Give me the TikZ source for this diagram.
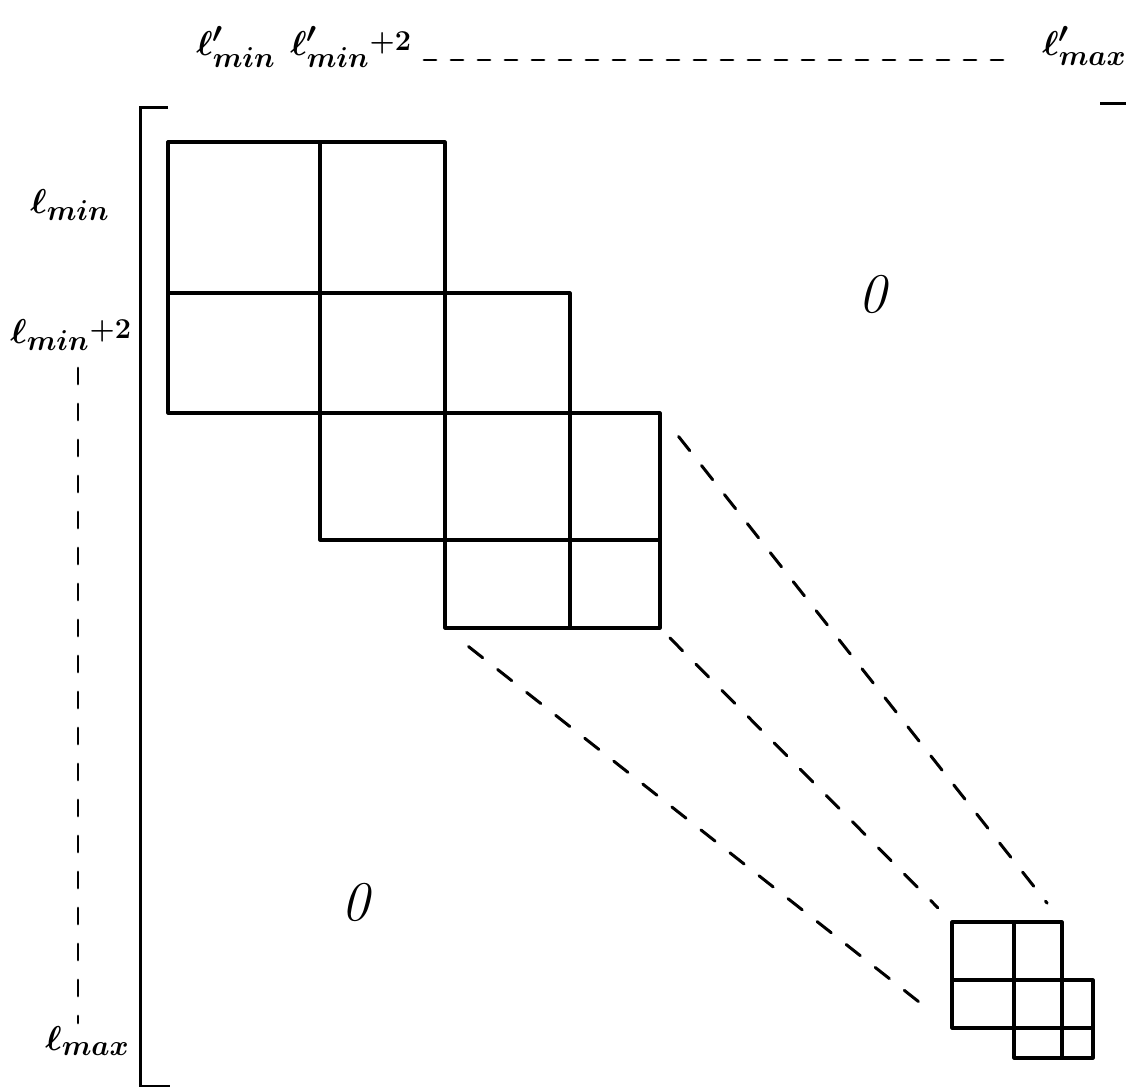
\documentclass[tikz,border=0pt]{standalone}
\usepackage{amsmath}
\usepackage{bm}
\usetikzlibrary{calc}
\begin{document}
\begin{tikzpicture}[x=0.5pt,y=-0.5pt,
  cellline/.style={line width=1.6pt, line cap=round, line join=round},
  bracketline/.style={line width=1.5pt},
  diagdash/.style={line width=1.5pt, line cap=round, dash pattern=on 9pt off 9.5pt},
  axisdash/.style={line width=1.4pt, line cap=round, dash pattern=on 6pt off 7.5pt},
  lab/.style={font=\fontsize{19}{22}\selectfont\boldmath, inner sep=0pt, anchor=base west},
  zero/.style={font=\fontsize{28}{30}\selectfont\itshape, inner sep=0pt}]
\useasboundingbox (0,0) rectangle (1126,1087);

% bracket
\draw[bracketline] (168,107) -- (140,107) -- (140,1086) -- (170,1086);
\draw[bracketline] (1100,103) -- (1126,103);

% big block cells
\foreach \xa/\xb/\ya/\yb in {168/320/142/293, 320/445/142/293,
   168/320/293/413, 320/445/293/413, 445/570/293/413,
   320/445/413/540, 445/570/413/540, 570/660/413/540,
   445/570/540/628, 570/660/540/628}
  \draw[cellline] (\xa,\ya) rectangle (\xb,\yb);

% small block cells
\foreach \xa/\xb/\ya/\yb in {952/1014/922/980, 1014/1062/922/980,
   952/1014/980/1028, 1014/1062/980/1028, 1062/1093/980/1028,
   1014/1062/1028/1058, 1062/1093/1028/1058}
  \draw[cellline] (\xa,\ya) rectangle (\xb,\yb);

% corners used by the connectors
\coordinate (bigTR) at (660,413);
\coordinate (bigBR) at (660,628);
\coordinate (bigBL) at (445,628);
\coordinate (smTR) at (1062,922);
\coordinate (smTL) at (952,922);
\coordinate (smBL) at (952,1028);

\draw[diagdash, shorten <=15pt, shorten >=12pt] (bigTR) -- (smTR);
\draw[diagdash, shorten <=7pt, shorten >=10pt] (bigBR) -- (smTL);
\draw[diagdash, shorten <=15pt, shorten >=12pt] (bigBL) -- (smBL);

% labels
\node[lab] (cmin) at (196,55) {$\ell'_{min}$};
\node[lab] (cmin2) at (290,55) {$\ell'_{min}\raisebox{2.5pt}{$\scriptstyle+2$}$};
\node[lab] (cmax) at (1042,55) {$\ell'_{max}$};
\node[lab] (rmin) at (30,213) {$\ell_{min}$};
\node[lab] (rmin2) at (10,343) {$\ell_{min}\raisebox{2.5pt}{$\scriptstyle+2$}$};
\node[lab] (rmax) at (45,1050) {$\ell_{max}$};

\coordinate (topA) at (424,60);
\coordinate (topB) at (1012,60);
\draw[axisdash] (topA) -- (topB);
\coordinate (leftA) at (78,368);
\coordinate (leftB) at (78,1023);
\draw[axisdash, dash pattern=on 8pt off 10pt] (leftA) -- (leftB);

\node[zero] (z1) at (872,294) {0};
\node[zero] (z2) at (355,902) {0};
\end{tikzpicture}
\end{document}
